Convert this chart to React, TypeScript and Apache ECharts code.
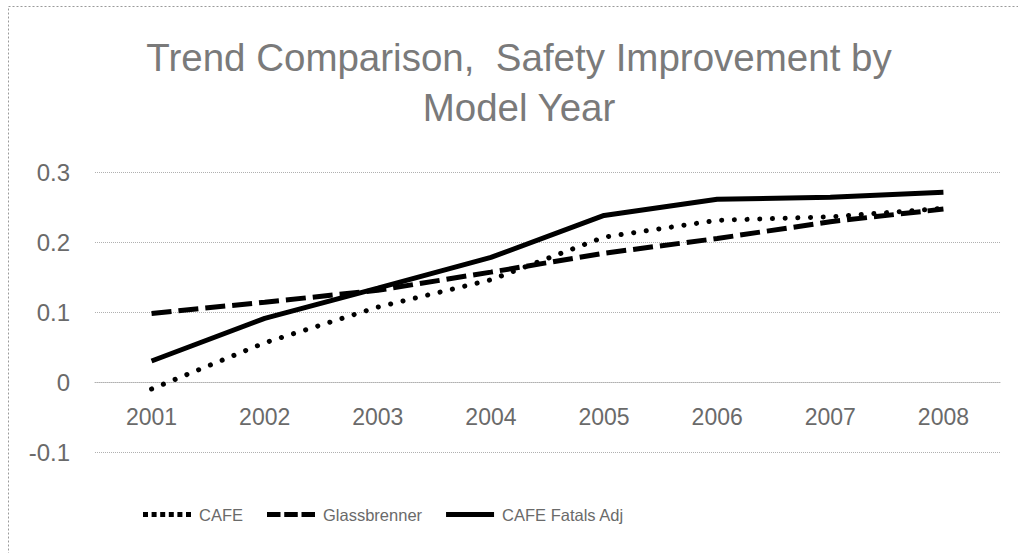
import React, { useEffect, useRef } from "react";
import * as echarts from "echarts";

const years = ["2001", "2002", "2003", "2004", "2005", "2006", "2007", "2008"];
const cafe = [-0.01, 0.056, 0.107, 0.146, 0.207, 0.231, 0.236, 0.248];
const glassbrenner = [0.098, 0.114, 0.131, 0.157, 0.184, 0.205, 0.229, 0.247];
const cafeFatalsAdj = [0.03, 0.091, 0.134, 0.178, 0.238, 0.261, 0.264, 0.271];
const seriesNames = ["CAFE", "Glassbrenner", "CAFE Fatals Adj"];
const titleText = "Trend Comparison,  Safety Improvement by\nModel Year";

const grey = "#6a6a6a";

const dottedIcon =
  "path://M0,0h5v5h-5zM8.6,0h5v5h-5zM17.2,0h5v5h-5zM25.8,0h5v5h-5zM34.4,0h5v5h-5zM43,0h5v5h-5z";
const dashedIcon = "path://M0,0h13.5v5h-13.5zM17.25,0h13.5v5h-13.5zM34.5,0h13.5v5h-13.5z";
const solidIcon = "path://M0,0h48v5h-48z";

export default function App() {
  const ref = useRef<HTMLDivElement>(null);
  useEffect(() => {
    document.body.style.margin = "0";
    const chart = echarts.init(ref.current!, null, { renderer: "svg" });
    chart.setOption({
      animation: false,
      backgroundColor: "#ffffff",
      title: {
        text: titleText,
        left: 514,
        top: 27,
        textAlign: "center",
        textStyle: {
          fontFamily: "'Liberation Sans', Arial, sans-serif",
          fontSize: 38.5,
          fontWeight: "normal",
          color: "#7a7a7a",
          lineHeight: 50,
        },
      },
      legend: {
        left: 138,
        top: 501,
        itemWidth: 48,
        itemHeight: 5,
        itemGap: 24,
        symbolKeepAspect: false,
        textStyle: {
          fontFamily: "'Liberation Sans', Arial, sans-serif",
          fontSize: 16.5,
          color: grey,
          padding: [0, 0, 0, 3],
        },
        data: [
          { name: seriesNames[0], icon: dottedIcon },
          { name: seriesNames[1], icon: dashedIcon },
          { name: seriesNames[2], icon: solidIcon },
        ],
      },
      grid: { left: 95, right: 18, top: 172, bottom: 101, containLabel: false },
      xAxis: {
        type: "category",
        data: years,
        boundaryGap: true,
        offset: -70,
        axisLine: { show: true, onZero: false, lineStyle: { color: "#b0b0b0", type: [1, 1], width: 1 } },
        axisTick: { show: false },
        axisLabel: {
          margin: 23,
          fontFamily: "'Liberation Sans', Arial, sans-serif",
          fontSize: 23,
          color: grey,
        },
        splitLine: { show: false },
      },
      yAxis: {
        type: "value",
        min: -0.1,
        max: 0.3,
        interval: 0.1,
        axisLine: { show: false },
        axisTick: { show: false },
        axisLabel: {
          margin: 25,
          fontFamily: "'Liberation Sans', Arial, sans-serif",
          fontSize: 24,
          color: grey,
          formatter: (v: number) => String(Math.round(v * 10) / 10),
        },
        splitLine: { show: true, lineStyle: { color: "#b0b0b0", type: [1, 1], width: 1 } },
      },
      series: [
        {
          name: seriesNames[0],
          type: "line",
          data: cafe,
          symbol: "none",
          lineStyle: { color: "#000", width: 5, type: [0.1, 12.6], cap: "round" },
          itemStyle: { color: "#000" },
        },
        {
          name: seriesNames[1],
          type: "line",
          data: glassbrenner,
          symbol: "none",
          lineStyle: { color: "#000", width: 5, type: [20, 7] },
          itemStyle: { color: "#000" },
        },
        {
          name: seriesNames[2],
          type: "line",
          data: cafeFatalsAdj,
          symbol: "none",
          lineStyle: { color: "#000", width: 5 },
          itemStyle: { color: "#000" },
        },
      ],
      graphic: [
        {
          type: "rect",
          shape: { x: 8.5, y: 6.5, width: 1100, height: 700 },
          style: { fill: "none", stroke: "#9a9a9a", lineWidth: 1, lineDash: [2, 2] },
          silent: true,
        },
      ],
    });
    return () => chart.dispose();
  }, []);
  return <div ref={ref} style={{ width: 1018, height: 553 }} />;
}
